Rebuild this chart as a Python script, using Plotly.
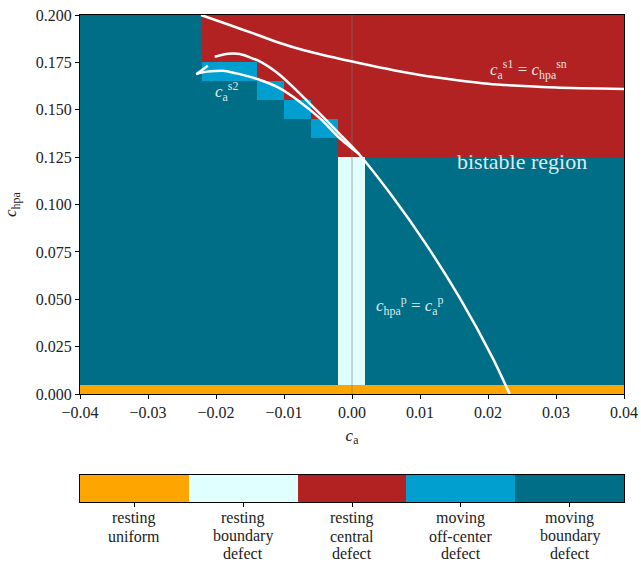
import plotly.graph_objects as go

# ---------------- data ----------------
ca_values = [-0.040, -0.036, -0.032, -0.028, -0.024, -0.020, -0.016, -0.012, -0.008, -0.004,
             0.000, 0.004, 0.008, 0.012, 0.016, 0.020, 0.024, 0.028, 0.032, 0.036, 0.040]
chpa_values = [0.00, 0.01, 0.02, 0.03, 0.04, 0.05, 0.06, 0.07, 0.08, 0.09, 0.10,
               0.11, 0.12, 0.13, 0.14, 0.15, 0.16, 0.17, 0.18, 0.19, 0.20]

# state codes: 0 resting uniform, 1 resting boundary defect, 2 resting central defect,
#              3 moving off-center defect, 4 moving boundary defect
state = [
    [0, 0, 0, 0, 0, 0, 0, 0, 0, 0, 0, 0, 0, 0, 0, 0, 0, 0, 0, 0, 0],  # 0.00
    [4, 4, 4, 4, 4, 4, 4, 4, 4, 4, 1, 4, 4, 4, 4, 4, 4, 4, 4, 4, 4],  # 0.01
    [4, 4, 4, 4, 4, 4, 4, 4, 4, 4, 1, 4, 4, 4, 4, 4, 4, 4, 4, 4, 4],  # 0.02
    [4, 4, 4, 4, 4, 4, 4, 4, 4, 4, 1, 4, 4, 4, 4, 4, 4, 4, 4, 4, 4],  # 0.03
    [4, 4, 4, 4, 4, 4, 4, 4, 4, 4, 1, 4, 4, 4, 4, 4, 4, 4, 4, 4, 4],  # 0.04
    [4, 4, 4, 4, 4, 4, 4, 4, 4, 4, 1, 4, 4, 4, 4, 4, 4, 4, 4, 4, 4],  # 0.05
    [4, 4, 4, 4, 4, 4, 4, 4, 4, 4, 1, 4, 4, 4, 4, 4, 4, 4, 4, 4, 4],  # 0.06
    [4, 4, 4, 4, 4, 4, 4, 4, 4, 4, 1, 4, 4, 4, 4, 4, 4, 4, 4, 4, 4],  # 0.07
    [4, 4, 4, 4, 4, 4, 4, 4, 4, 4, 1, 4, 4, 4, 4, 4, 4, 4, 4, 4, 4],  # 0.08
    [4, 4, 4, 4, 4, 4, 4, 4, 4, 4, 1, 4, 4, 4, 4, 4, 4, 4, 4, 4, 4],  # 0.09
    [4, 4, 4, 4, 4, 4, 4, 4, 4, 4, 1, 4, 4, 4, 4, 4, 4, 4, 4, 4, 4],  # 0.10
    [4, 4, 4, 4, 4, 4, 4, 4, 4, 4, 1, 4, 4, 4, 4, 4, 4, 4, 4, 4, 4],  # 0.11
    [4, 4, 4, 4, 4, 4, 4, 4, 4, 4, 1, 4, 4, 4, 4, 4, 4, 4, 4, 4, 4],  # 0.12
    [4, 4, 4, 4, 4, 4, 4, 4, 4, 4, 2, 2, 2, 2, 2, 2, 2, 2, 2, 2, 2],  # 0.13
    [4, 4, 4, 4, 4, 4, 4, 4, 4, 3, 2, 2, 2, 2, 2, 2, 2, 2, 2, 2, 2],  # 0.14
    [4, 4, 4, 4, 4, 4, 4, 4, 3, 2, 2, 2, 2, 2, 2, 2, 2, 2, 2, 2, 2],  # 0.15
    [4, 4, 4, 4, 4, 4, 4, 3, 2, 2, 2, 2, 2, 2, 2, 2, 2, 2, 2, 2, 2],  # 0.16
    [4, 4, 4, 4, 4, 3, 3, 2, 2, 2, 2, 2, 2, 2, 2, 2, 2, 2, 2, 2, 2],  # 0.17
    [4, 4, 4, 4, 4, 2, 2, 2, 2, 2, 2, 2, 2, 2, 2, 2, 2, 2, 2, 2, 2],  # 0.18
    [4, 4, 4, 4, 4, 2, 2, 2, 2, 2, 2, 2, 2, 2, 2, 2, 2, 2, 2, 2, 2],  # 0.19
    [4, 4, 4, 4, 4, 2, 2, 2, 2, 2, 2, 2, 2, 2, 2, 2, 2, 2, 2, 2, 2],  # 0.20
]

state_codes = [0, 1, 2, 3, 4]
state_labels = ["resting<br>uniform", "resting<br>boundary<br>defect", "resting<br>central<br>defect",
                "moving<br>off-center<br>defect", "moving<br>boundary<br>defect"]
state_colors = ["#FFA500", "#E0FFFF", "#B22222", "#009FD0", "#006E87"]

# curve c_a^s1 = c_hpa^sn
s1_ca = [-0.0222, -0.0180, -0.0145, -0.0106, -0.0072, 0.0012, 0.0100, 0.0200, 0.0300, 0.0400]
s1_chpa = [0.2000, 0.1947, 0.1903, 0.1852, 0.1815, 0.1745, 0.1683, 0.1637, 0.1618, 0.1610]

# curve c_hpa^p = c_a^p
p_ca = [-0.0202, -0.0182, -0.0165, -0.0135, -0.0106, -0.0077, -0.0047, -0.0018, 0.0011,
        0.0060, 0.0109, 0.0158, 0.0207, 0.0232]
p_chpa = [0.1780, 0.1795, 0.1794, 0.1754, 0.1684, 0.1587, 0.1478, 0.1372, 0.1263,
          0.1040, 0.0790, 0.0510, 0.0190, 0.0000]

# curve c_a^s2 (cusp branch)
s2_spur_ca = [-0.0212, -0.0229]
s2_spur_chpa = [0.1732, 0.1688]
s2_ca = [-0.0229, -0.0216, -0.0187, -0.0165, -0.0135, -0.0106, -0.0077, -0.0047, -0.0018, 0.0011]
s2_chpa = [0.1688, 0.1700, 0.1705, 0.1688, 0.1657, 0.1613, 0.1543, 0.1455, 0.1350, 0.1265]

x_ticks = [-0.04, -0.03, -0.02, -0.01, 0.00, 0.01, 0.02, 0.03, 0.04]
y_ticks = [0.000, 0.025, 0.050, 0.075, 0.100, 0.125, 0.150, 0.175, 0.200]
zero_line_ca = 0.0

# ---------------- figure ----------------
n = len(state_codes)
colorscale = []
for i, c in enumerate(state_colors):
    colorscale.append([i / n, c])
    colorscale.append([(i + 1) / n, c])

FONT = "Liberation Serif, DejaVu Serif, serif"
TXT = "#222222"
fig = go.Figure()

fig.add_trace(go.Heatmap(
    x=ca_values, y=chpa_values, z=state, colorscale=colorscale,
    zmin=-0.5, zmax=4.5, showscale=False, xaxis="x", yaxis="y", hoverinfo="skip"))

fig.add_trace(go.Scatter(
    x=[zero_line_ca, zero_line_ca], y=[y_ticks[0], y_ticks[-1]], mode="lines",
    line=dict(color="rgba(120,120,120,0.6)", width=1), showlegend=False, xaxis="x", yaxis="y"))

curve_line = dict(color="white", width=2.5)
fig.add_trace(go.Scatter(x=s1_ca, y=s1_chpa, mode="lines", line=dict(shape="spline", smoothing=0.6, **curve_line),
                         showlegend=False, xaxis="x", yaxis="y"))
fig.add_trace(go.Scatter(x=p_ca, y=p_chpa, mode="lines", line=dict(shape="spline", smoothing=0.6, **curve_line),
                         showlegend=False, xaxis="x", yaxis="y"))
fig.add_trace(go.Scatter(x=s2_spur_ca, y=s2_spur_chpa, mode="lines", line=curve_line,
                         showlegend=False, xaxis="x", yaxis="y"))
fig.add_trace(go.Scatter(x=s2_ca, y=s2_chpa, mode="lines", line=dict(shape="spline", smoothing=0.6, **curve_line),
                         showlegend=False, xaxis="x", yaxis="y"))

# colorbar drawn as its own heatmap strip
fig.add_trace(go.Heatmap(
    x=state_codes, y=[0], z=[state_codes], colorscale=colorscale,
    zmin=-0.5, zmax=4.5, showscale=False, xaxis="x2", yaxis="y2", hoverinfo="skip"))

label_color = "rgba(240,248,250,0.92)"
annotations = [
    dict(x=0.026, y=0.1715, text="<i>c</i><sub>a</sub><sup>s1</sup> = <i>c</i><sub>hpa</sub><sup>sn</sup>",
         font=dict(size=17, color=label_color, family=FONT)),
    dict(x=0.0250, y=0.1228, text="bistable region", font=dict(size=22, color=label_color, family=FONT)),
    dict(x=-0.0185, y=0.1595, text="<i>c</i><sub>a</sub><sup>s2</sup>", font=dict(size=17, color=label_color, family=FONT)),
    dict(x=0.0085, y=0.0470, text="<i>c</i><sub>hpa</sub><sup>p</sup> = <i>c</i><sub>a</sub><sup>p</sup>",
         font=dict(size=17, color=label_color, family=FONT)),
]
for a in annotations:
    a.update(xref="x", yref="y", showarrow=False, xanchor="center", yanchor="middle")

# colorbar category labels, one line per annotation for exact line spacing
H_PLOT = 487.0
line_px = [518, 536, 553]  # pixel centres of label lines (plot-area bottom at px 502)
for code, lab in zip(state_codes, state_labels):
    for k, part in enumerate(lab.split("<br>")):
        annotations.append(dict(x=code, xref="x2", y=(502 - line_px[k]) / H_PLOT, yref="paper",
                                text=part, showarrow=False, xanchor="center", yanchor="middle",
                                font=dict(size=16, color=TXT, family=FONT)))

axis_common = dict(showline=True, linecolor="black", linewidth=1, mirror=True, ticks="outside",
                   ticklen=4, tickcolor="black", showgrid=False, zeroline=False, automargin=False,
                   tickfont=dict(family=FONT, size=16, color=TXT))

fig.update_layout(
    width=641, height=566,
    margin=dict(l=80, r=17, t=15, b=64),
    paper_bgcolor="white", plot_bgcolor="white",
    font=dict(family=FONT, size=16, color=TXT),
    xaxis=dict(range=[-0.04, 0.04], tickvals=x_ticks, tickformat=".2f", anchor="y", domain=[0, 1],
               title=dict(text="<i>c</i><sub>a</sub>", font=dict(family=FONT, size=17, color=TXT), standoff=8),
               **axis_common),
    yaxis=dict(range=[0, 0.2], tickvals=y_ticks, tickformat=".3f", anchor="x", domain=[0.2215, 1],
               title=dict(text="<i>c</i><sub>hpa</sub>", font=dict(family=FONT, size=17, color=TXT), standoff=14),
               **axis_common),
    xaxis2=dict(range=[-0.5, 4.5], tickvals=state_codes, showticklabels=False, anchor="y2", domain=[0, 1],
                **axis_common),
    yaxis2=dict(range=[-0.5, 0.5], anchor="x2", domain=[0, 0.0555], showticklabels=False,
                showline=True, linecolor="black", linewidth=1, mirror=True, ticks="", showgrid=False,
                zeroline=False, automargin=False),
    annotations=annotations,
)

fig.write_html("out.html", config={"displayModeBar": False},
               post_script="document.body.style.margin='0';document.body.style.overflow='hidden';")
